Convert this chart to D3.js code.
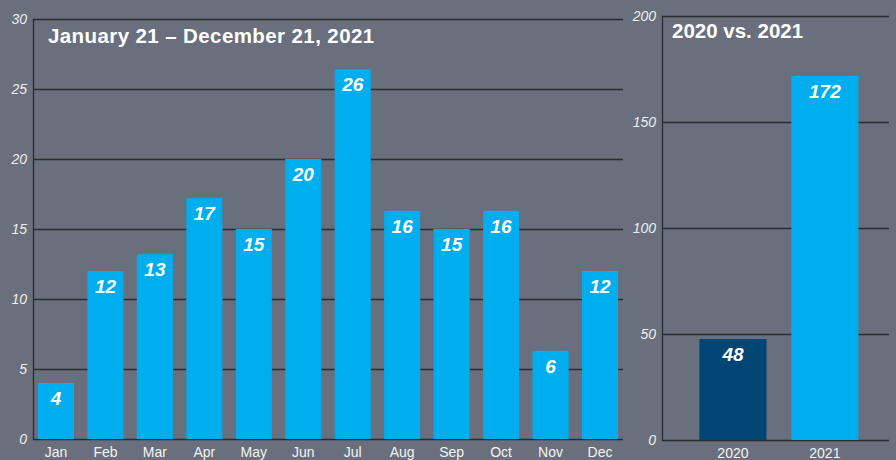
<!DOCTYPE html>
<html>
<head>
<meta charset="utf-8">
<script src="https://cdn.jsdelivr.net/npm/d3@7"></script>
<style>
  html, body { margin: 0; padding: 0; background: #696f7c; }
  svg { display: block; }
</style>
</head>
<body>
<div id="chart"></div>
<script>
// Monthly chart data
const months = ["Jan", "Feb", "Mar", "Apr", "May", "Jun", "Jul", "Aug", "Sep", "Oct", "Nov", "Dec"];
const monthValues = [4, 12, 13.2, 17.2, 15, 20, 26.4, 16.3, 15, 16.3, 6.3, 12];
const monthTicks = [0, 5, 10, 15, 20, 25, 30];

// Year comparison data
const years = ["2020", "2021"];
const yearValues = [47.6, 171.7];
const yearTicks = [0, 50, 100, 150, 200];

const bg = "#696f7c";
const cyan = "#00adee";
const navy = "#004574";
const lineColor = "#2a2c33";
const font = "'Liberation Sans', Arial, Helvetica, sans-serif";

const svg = d3.select("#chart").append("svg")
  .attr("width", 896)
  .attr("height", 460)
  .style("background", bg);

// Draw one panel
function drawPanel(opts) {
  const x = d3.scaleBand()
    .domain(opts.cats)
    .range([opts.x0, opts.x1])
    .paddingInner(opts.pi)
    .paddingOuter(opts.po)
    .align(opts.align);

  const y = d3.scaleLinear()
    .domain([0, opts.max])
    .range([opts.y0, opts.y1]);

  const g = svg.append("g");

  // Gridlines
  g.selectAll(".grid")
    .data(opts.ticks)
    .join("line")
    .attr("x1", opts.x0)
    .attr("x2", opts.x1)
    .attr("y1", (d) => y(d) + 0.5)
    .attr("y2", (d) => y(d) + 0.5)
    .attr("stroke", lineColor)
    .attr("stroke-width", 1.3);

  // Y axis line
  g.append("line")
    .attr("x1", opts.x0 + 0.5)
    .attr("x2", opts.x0 + 0.5)
    .attr("y1", y(opts.max))
    .attr("y2", y(0) + 1)
    .attr("stroke", lineColor)
    .attr("stroke-width", 1.3);

  // Y tick labels
  const ya = g.append("g")
    .attr("transform", `translate(${opts.x0 - 6},0)`)
    .call(d3.axisLeft(y).tickValues(opts.ticks).tickSize(0).tickPadding(0));
  ya.select(".domain").remove();
  ya.selectAll("text")
    .style("font-family", font)
    .style("font-size", "14px")
    .style("font-style", "italic")
    .style("fill", "#eeeeee");

  // Bars
  g.selectAll(".bar")
    .data(opts.values)
    .join("rect")
    .attr("x", (d, i) => x(opts.cats[i]))
    .attr("y", (d) => y(d))
    .attr("width", x.bandwidth())
    .attr("height", (d) => y(0) - y(d))
    .attr("fill", (d, i) => opts.colors[i]);

  // Value labels
  g.selectAll(".val")
    .data(opts.values)
    .join("text")
    .attr("x", (d, i) => x(opts.cats[i]) + x.bandwidth() / 2)
    .attr("y", (d) => y(d) + 22)
    .attr("text-anchor", "middle")
    .style("font-family", font)
    .style("font-size", "19px")
    .style("font-weight", "bold")
    .style("font-style", "italic")
    .style("fill", "#ffffff")
    .text((d) => d3.format(".0f")(d));

  // X labels
  const xa = g.append("g")
    .attr("transform", `translate(0,${opts.y0})`)
    .call(d3.axisBottom(x).tickSize(0).tickPadding(0));
  xa.select(".domain").remove();
  xa.selectAll("text")
    .attr("dy", null)
    .attr("y", 18)
    .style("font-family", font)
    .style("font-size", "14px")
    .style("fill", "#f4f4f4");

  // Title
  g.append("text")
    .attr("x", opts.titleX)
    .attr("y", opts.titleY)
    .style("font-family", font)
    .style("font-size", "20.5px")
    .style("font-weight", "bold")
    .style("letter-spacing", opts.titleSpacing)
    .style("fill", "#ffffff")
    .text(opts.title);
}

drawPanel({
  cats: months,
  values: monthValues,
  colors: months.map(() => cyan),
  ticks: monthTicks,
  max: 30,
  x0: 33, x1: 623,
  y0: 439, y1: 19,
  pi: 0.27, po: 0.1, align: 0.5,
  title: "January 21 – December 21, 2021",
  titleX: 48, titleY: 43, titleSpacing: "0.4px"
});

drawPanel({
  cats: years,
  values: yearValues,
  colors: [navy, cyan],
  ticks: yearTicks,
  max: 200,
  x0: 662, x1: 889,
  y0: 440, y1: 16,
  pi: 0.27, po: 0.37, align: 0.55,
  title: "2020 vs. 2021",
  titleX: 672, titleY: 38, titleSpacing: "0px"
});
</script>
</body>
</html>
